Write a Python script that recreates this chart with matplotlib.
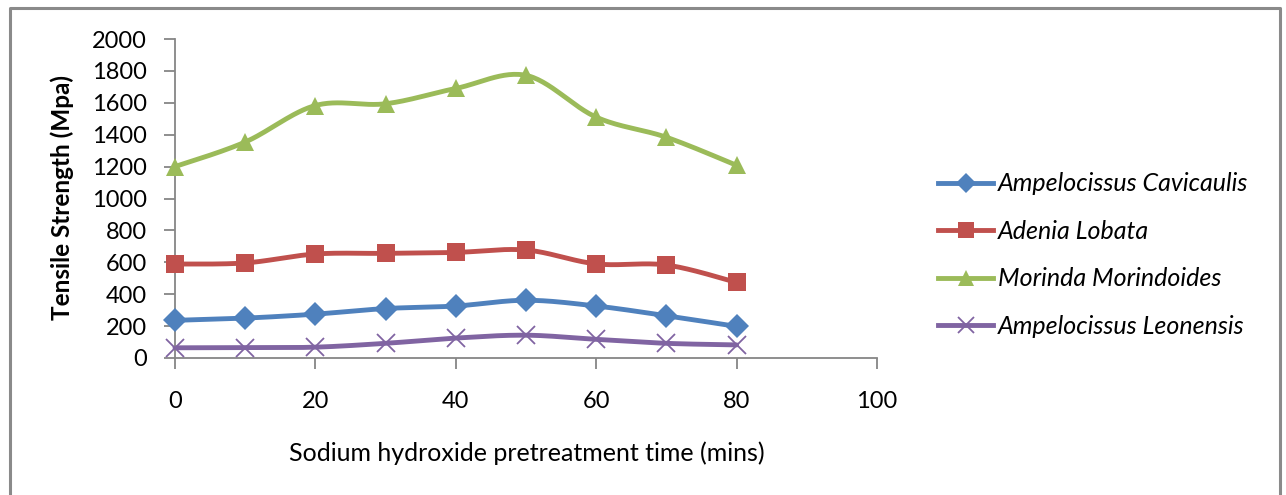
import numpy as np
import matplotlib
matplotlib.use("Agg")
import matplotlib.pyplot as plt
from matplotlib.lines import Line2D

plt.rcParams['font.family'] = ['Lato', 'DejaVu Sans']

# ---- data ----
time_min = [0, 10, 20, 30, 40, 50, 60, 70, 80]
ampelocissus_cavicaulis = [236, 250, 275, 310, 326, 362, 326, 265, 198]
adenia_lobata = [589, 596, 652, 656, 662, 677, 590, 583, 474]
morinda_morindoides = [1200, 1354, 1583, 1594, 1690, 1772, 1510, 1384, 1208]
ampelocissus_leonensis = [64, 65, 68, 92, 125, 143, 117, 92, 82]
series_names = ["Ampelocissus Cavicaulis", "Adenia Lobata",
                "Morinda Morindoides", "Ampelocissus Leonensis"]
x_ticks = [0, 20, 40, 60, 80, 100]
y_ticks = [0, 200, 400, 600, 800, 1000, 1200, 1400, 1600, 1800, 2000]
x_label = "Sodium hydroxide pretreatment time (mins)"
y_label = "Tensile Strength (Mpa)"

colors = ["#4F81BD", "#C0504D", "#9BBB59", "#8064A2"]
markers = ["D", "s", "^", "x"]
msizes = [12.5, 13.5, 13.5, 13.5]


def smooth(xs, ys, n=30):
    """Excel-style smoothed line (cardinal Bezier through points)."""
    xs = np.asarray(xs, float)
    ys = np.asarray(ys, float)
    P = np.column_stack([xs, ys])
    out = []
    for i in range(len(P) - 1):
        p0 = P[i - 1] if i > 0 else P[i]
        p1 = P[i]
        p2 = P[i + 1]
        p3 = P[i + 2] if i + 2 < len(P) else P[i + 1]
        c1 = p1 + (p2 - p0) / 6.0
        c2 = p2 - (p3 - p1) / 6.0
        t = np.linspace(0, 1, n)[:, None]
        seg = ((1 - t) ** 3) * p1 + 3 * ((1 - t) ** 2) * t * c1 + 3 * (1 - t) * t ** 2 * c2 + t ** 3 * p2
        out.append(seg if i == 0 else seg[1:])
    seg = np.vstack(out)
    return seg[:, 0], seg[:, 1]


W, H = 1286, 495
fig = plt.figure(figsize=(W / 100, H / 100), dpi=100)
ax = fig.add_axes([175 / W, 1 - 358 / H, (877 - 175) / W, (358 - 39) / H])

all_series = [ampelocissus_cavicaulis, adenia_lobata, morinda_morindoides, ampelocissus_leonensis]
handles = []
for vals, c, m, ms, name in zip(all_series, colors, markers, msizes, series_names):
    sx, sy = smooth(time_min, vals)
    ax.plot(sx, sy, color=c, lw=3.5, solid_capstyle='round', clip_on=False, zorder=2)
    if m == "x":
        ax.plot(time_min, vals, linestyle='none', marker=m, ms=ms, mec=c, mew=1.3,
                clip_on=False, zorder=3)
    else:
        ax.plot(time_min, vals, linestyle='none', marker=m, ms=ms, mfc=c, mec=c, mew=0,
                clip_on=False, zorder=3)
    h = Line2D([], [], color=c, lw=3.5, marker=m, ms=ms * (0.85 if m != "x" else 0.9),
               mfc=c, mec=c, mew=(1.3 if m == "x" else 0))
    handles.append(h)

ax.set_xlim(0, 100)
ax.set_ylim(0, 2000)
ax.set_xticks(x_ticks)
ax.set_yticks(y_ticks)
for s in ["top", "right"]:
    ax.spines[s].set_visible(False)
for s in ["left", "bottom"]:
    ax.spines[s].set_color("#868686")
    ax.spines[s].set_linewidth(1.3)
ax.tick_params(axis='both', direction='out', length=8, width=1.3, color="#868686",
               labelsize=17, labelcolor="black")
ax.tick_params(axis='x', pad=16)
ax.tick_params(axis='y', pad=12)

fig.text(527 / W, 1 - 453 / H, x_label, ha='center', va='center', fontsize=18)
fig.text(62 / W, 1 - 198 / H, y_label, ha='center', va='center', fontsize=17.5,
         fontweight='bold', rotation=90)

leg = fig.legend(handles, series_names, loc='center left',
                 bbox_to_anchor=(938 / W, 1 - 255 / H), frameon=False,
                 handlelength=2.2, handletextpad=0.2, labelspacing=0.98,
                 prop={'size': 18, 'style': 'italic'}, borderaxespad=0, borderpad=0)

# outer chart border
fig.add_artist(Line2D([10 / W, 10 / W, 1280 / W, 1280 / W],
                      [-0.05, 1 - 8 / H, 1 - 8 / H, -0.05],
                      transform=fig.transFigure, color="#8a8a8a", lw=2.2))

fig.savefig("out.png", dpi=100, facecolor="white")
